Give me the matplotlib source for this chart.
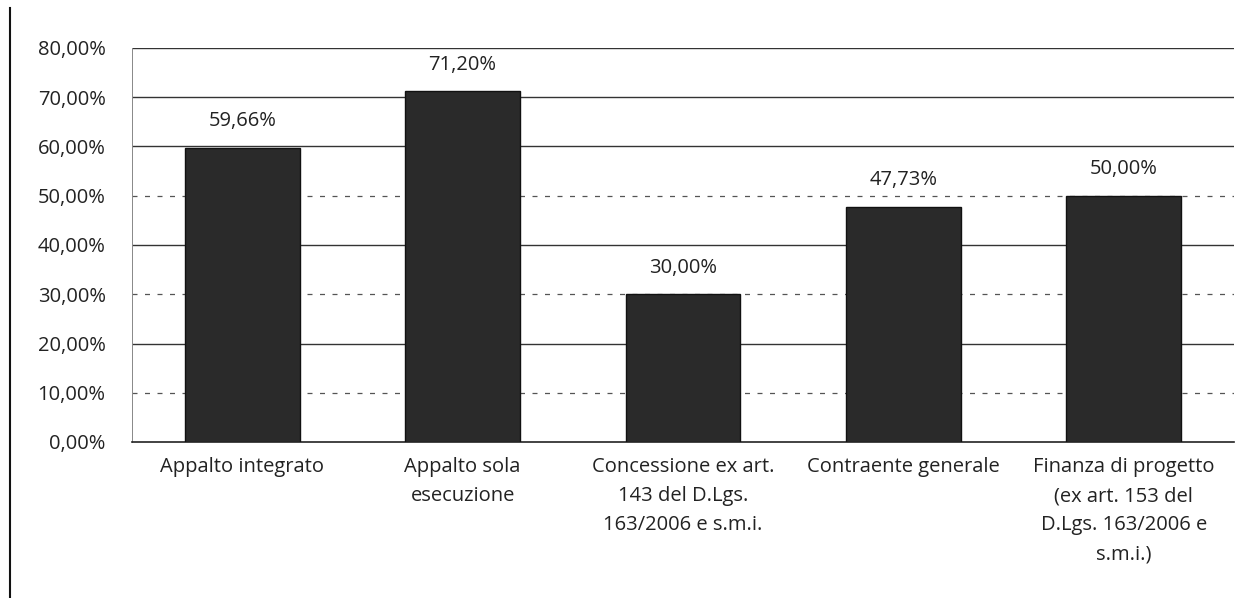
import matplotlib.pyplot as plt
from matplotlib.ticker import FuncFormatter

# dati del grafico
categorie = [
    "Appalto integrato",
    "Appalto sola\nesecuzione",
    "Concessione ex art.\n143 del D.Lgs.\n163/2006 e s.m.i.",
    "Contraente generale",
    "Finanza di progetto\n(ex art. 153 del\nD.Lgs. 163/2006 e\ns.m.i.)",
]
percentuali = [59.66, 71.20, 30.00, 47.73, 50.00]
etichette = ["59,66%", "71,20%", "30,00%", "47,73%", "50,00%"]

plt.rcParams["font.family"] = ["Open Sans", "DejaVu Sans"]

fig = plt.figure(figsize=(12.55, 5.98), dpi=100)
ax = fig.add_axes([132 / 1255, 1 - 442 / 598, 1102 / 1255, 394 / 598])

x = range(len(categorie))
ax.bar(x, percentuali, width=0.52, color="#2a2a2a", edgecolor="#111111", zorder=3)

for xi, v, lab in zip(x, percentuali, etichette):
    ax.text(xi, v + 3.4, lab, ha="center", va="bottom", fontsize=14.5, color="#222222")

ax.set_xlim(-0.5, len(categorie) - 0.5)
ax.set_ylim(0, 80)
ax.set_yticks(range(0, 81, 10))
ax.yaxis.set_major_formatter(FuncFormatter(lambda v, _: f"{v:.2f}%".replace(".", ",")))

# griglia: linee piene e tratteggiate alternate
for yv in range(10, 81, 10):
    if yv in (10, 30, 50):
        ax.axhline(yv, color="#555555", lw=0.9, ls=(0, (4, 6)), zorder=1)
    else:
        ax.axhline(yv, color="#333333", lw=1.0, zorder=1)

ax.set_xticks(list(x))
ax.set_xticklabels(categorie, fontsize=14.5, color="#222222", linespacing=1.6)
ax.tick_params(axis="both", length=0)
ax.tick_params(axis="x", pad=11)
ax.tick_params(axis="y", labelsize=14.5, pad=19)
for lab in ax.get_yticklabels():
    lab.set_color("#222222")

for s in ["top", "right"]:
    ax.spines[s].set_visible(False)
ax.spines["left"].set_color("#888888")
ax.spines["left"].set_linewidth(0.7)
ax.spines["bottom"].set_color("#222222")
ax.spines["bottom"].set_linewidth(1.2)

# bordo verticale a sinistra della scansione
fig.add_artist(plt.Line2D([10 / 1255, 10 / 1255], [0, 1 - 8 / 598], color="#111111", lw=1.5))

fig.savefig("out.png", dpi=100, facecolor="white")
